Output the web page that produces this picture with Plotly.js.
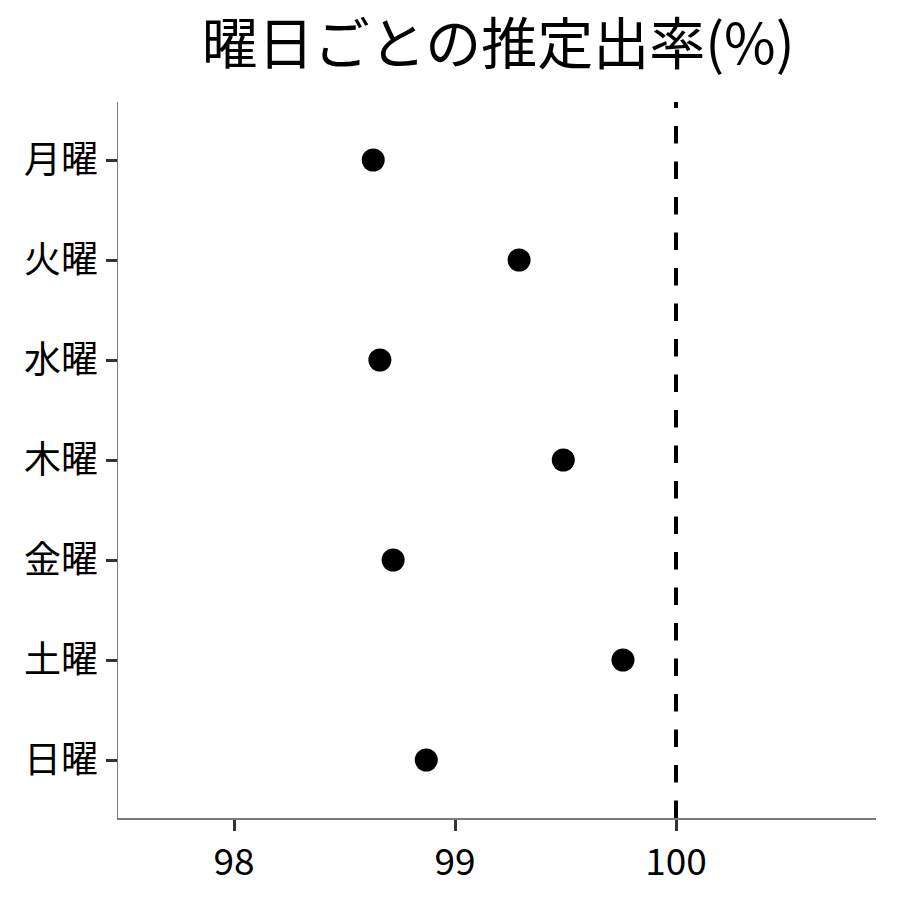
<!DOCTYPE html>
<html>
<head>
<meta charset="utf-8">
<script src="https://cdn.plot.ly/plotly-3.0.1.min.js"></script>
<style>html,body{margin:0;padding:0;background:#fff;}#chart{width:900px;height:900px;}</style>
</head>
<body>
<div id="chart"></div>
<script>
const days = ["月曜", "火曜", "水曜", "木曜", "金曜", "土曜", "日曜"];
const rates = [98.63, 99.29, 98.66, 99.49, 98.72, 99.76, 98.87];
const referenceRate = 100;
const xTickValues = [98, 99, 100];
const xTickLabels = ["98", "99", "100"];
const titleText = "曜日ごとの推定出率(%)";

const FONT = "'Noto Sans CJK JP', 'Noto Sans', sans-serif";

const trace = {
  type: "scatter",
  mode: "markers",
  x: rates,
  y: days,
  marker: { color: "#000000", size: 23 },
  hoverinfo: "x+y",
  showlegend: false
};

const layout = {
  width: 900,
  height: 900,
  paper_bgcolor: "#ffffff",
  plot_bgcolor: "#ffffff",
  margin: { l: 118, r: 24, t: 102, b: 82 },
  font: { family: FONT, color: "#000000" },
  title: {
    text: titleText,
    font: { family: FONT, size: 56, color: "#000000" },
    x: 0.5535, xanchor: "center",
    y: 0.951, yanchor: "middle"
  },
  xaxis: {
    range: [97.475, 100.905],
    tickmode: "array",
    tickvals: xTickValues,
    ticktext: xTickLabels,
    showgrid: false,
    zeroline: false,
    showline: true,
    linecolor: "#7a7a7a",
    linewidth: 1.5,
    ticks: "outside",
    ticklen: 11,
    tickwidth: 3,
    tickcolor: "#333333",
    tickfont: { family: FONT, size: 37, color: "#000000" }
  },
  yaxis: {
    type: "category",
    categoryorder: "array",
    categoryarray: days,
    range: [6.58, -0.58],
    showgrid: false,
    zeroline: false,
    showline: true,
    linecolor: "#7a7a7a",
    linewidth: 1.5,
    ticks: "outside",
    ticklen: 11,
    tickwidth: 3,
    tickcolor: "#333333",
    ticklabelstandoff: 0,
    tickfont: { family: FONT, size: 37, color: "#000000" }
  },
  shapes: [{
    type: "line",
    xref: "x", yref: "paper",
    x0: referenceRate, x1: referenceRate,
    y0: 0, y1: 1,
    line: { color: "#000000", width: 4, dash: "17.5px,18px" }
  }]
};

Plotly.newPlot("chart", [trace], layout, { displayModeBar: false, staticPlot: true });
</script>
</body>
</html>
